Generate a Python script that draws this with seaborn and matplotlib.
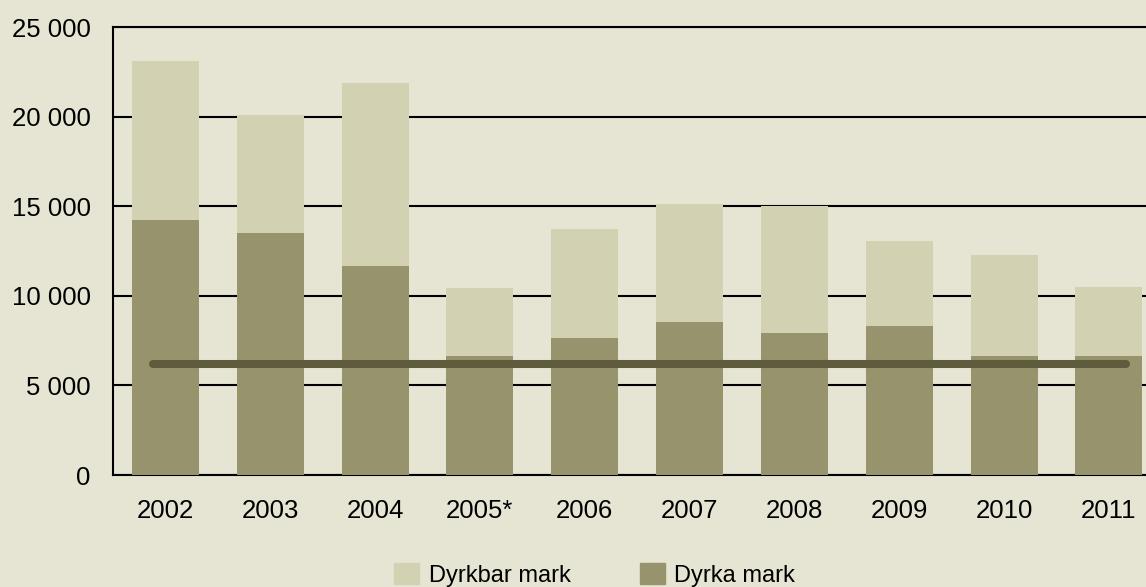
import seaborn as sns
import matplotlib.pyplot as plt
import pandas as pd
from matplotlib.patches import Patch

# --- data ---
years = ["2002", "2003", "2004", "2005*", "2006", "2007", "2008", "2009", "2010", "2011"]
dyrkbar_total = [23100, 20100, 21850, 10450, 13700, 15150, 15000, 13050, 12250, 10500]
dyrka = [14250, 13480, 11650, 6650, 7620, 8520, 7900, 8300, 6660, 6650]
avg_level = 6200

df = pd.DataFrame({"year": years, "total": dyrkbar_total, "dyrka": dyrka})

bg = "#E6E5D4"
light = "#D2D2B2"
dark = "#97936D"
line_col = "#5F5B3D"

sns.set_style("white")
plt.rcParams["font.family"] = ["Liberation Sans", "DejaVu Sans"]

fig = plt.figure(figsize=(11.46, 5.87), dpi=100, facecolor=bg)
ax = fig.add_axes([0.0986, 0.1908, 0.9148, 0.7632])
ax.set_facecolor(bg)

sns.barplot(data=df, x="year", y="total", color=light, width=0.64,
            saturation=1, ax=ax, zorder=3, linewidth=0)
sns.barplot(data=df, x="year", y="dyrka", color=dark, width=0.64,
            saturation=1, ax=ax, zorder=4, linewidth=0)

# horizontal reference line
ax.plot([-0.12, len(years) - 1 + 0.16], [avg_level, avg_level], color=line_col,
        lw=5.8, solid_capstyle="round", zorder=5)

ax.set_xlim(-0.5, len(years) - 0.5)
ax.set_ylim(0, 25000)
ax.set_yticks(range(0, 25001, 5000))
ax.yaxis.set_major_formatter(plt.FuncFormatter(lambda v, p: f"{int(v):,}".replace(",", " ")))
ax.set_xlabel("")
ax.set_ylabel("")

ax.grid(axis="y", color="black", lw=1.5, zorder=0)
ax.set_axisbelow(True)
for side in ["left", "bottom", "top"]:
    ax.spines[side].set_color("black")
    ax.spines[side].set_linewidth(1.5)
ax.spines["right"].set_visible(False)
ax.tick_params(axis="both", length=0, labelsize=18.5, colors="black")
ax.tick_params(axis="y", pad=16)
ax.tick_params(axis="x", pad=17)

handles = [Patch(color=light, label="Dyrkbar mark"), Patch(color=dark, label="Dyrka mark")]
leg = fig.legend(handles=handles, loc="lower center", bbox_to_anchor=(0.519, 0.0), ncol=2,
                 frameon=False, fontsize=17, handlelength=1.06, handleheight=1.0,
                 columnspacing=2.9, handletextpad=0.42, borderpad=0, borderaxespad=0)
for t in leg.get_texts():
    t.set_color("black")

plt.savefig("out.png", dpi=100, facecolor=bg)
plt.close()
